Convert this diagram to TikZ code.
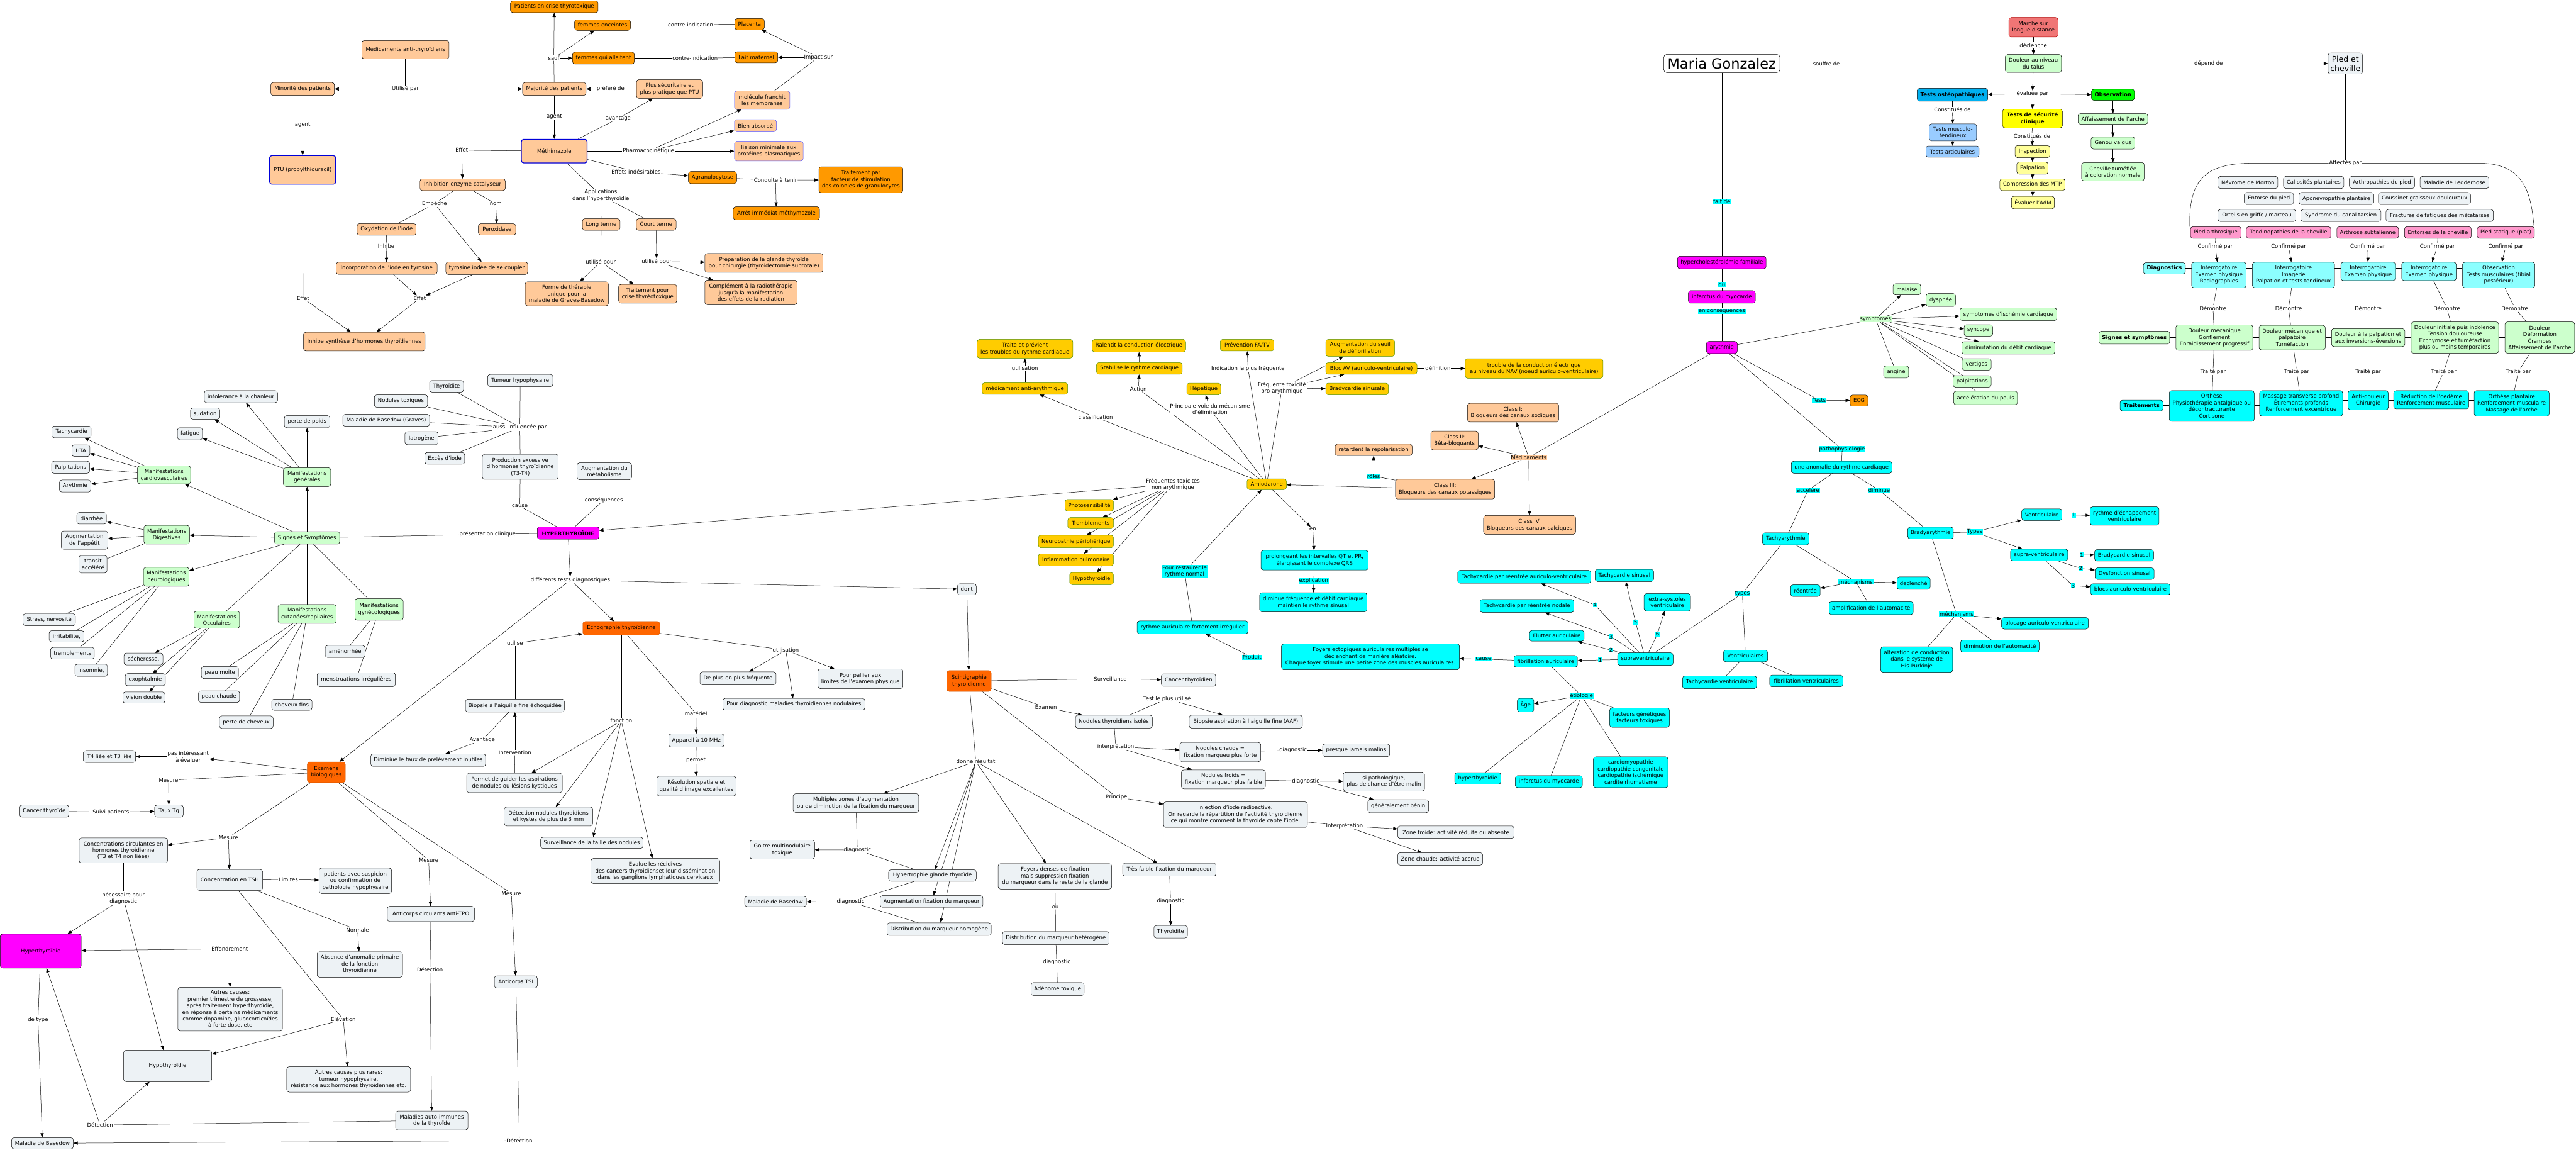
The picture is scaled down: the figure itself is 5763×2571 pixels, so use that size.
\documentclass[tikz,border=0pt]{standalone}
\usepackage{fontspec}
\setmainfont{DejaVu Sans}
\usetikzlibrary{arrows.meta}
\pgfdeclarelayer{bg}
\pgfsetlayers{bg,main}
\definecolor{peach}{HTML}{FFC999}
\definecolor{orng}{HTML}{FF9900}
\definecolor{ored}{HTML}{FF6600}
\definecolor{mag}{HTML}{FF00FF}
\definecolor{yelb}{HTML}{FFCC00}
\definecolor{yelbd}{HTML}{4D8C00}
\definecolor{cyn}{HTML}{00FFFF}
\definecolor{lcyn}{HTML}{8CFFFF}
\definecolor{lgr}{HTML}{CCFFCC}
\definecolor{gry}{HTML}{EDF2F5}
\definecolor{pnk}{HTML}{FF99CC}
\definecolor{coral}{HTML}{F07575}
\definecolor{dsky}{HTML}{00B0F0}
\definecolor{lblu}{HTML}{99CCFF}
\definecolor{grn}{HTML}{00FF00}
\definecolor{yy}{HTML}{FFFF00}
\definecolor{lyel}{HTML}{FFFF99}
\newcommand\fs{\fontsize{6.8}{8.4}\selectfont}
\newcommand\Bx[6]{\node[#1,wd=#4,ht=#5] (#2) at (#3) {#6};}
\newcommand\Lb[3]{\node[lab] (#1) at (#2) {#3};}
\newcommand\Lc[3]{\node[clab] (#1) at (#2) {#3};}
\newcommand\Ar[2]{\draw[ar] (#1) -- (#2);}
\newcommand\Ln[2]{\draw (#1) -- (#2);}
\tikzset{
 bx/.style={draw, rounded corners=3pt, inner sep=1pt, align=center, font=\fs, line width=0.4pt},
 wd/.style={minimum width=#1*0.02cm},
 ht/.style={minimum height=#1*0.02cm},
 pe/.style={bx, fill=peach},
 peb/.style={bx, fill=peach, draw=blue!85!black, line width=1pt},
 pel/.style={bx, fill=peach, draw=blue!70},
 orb/.style={bx, fill=orng},
 orr/.style={bx, fill=ored, draw=ored!80!black},
 mg/.style={bx, fill=mag},
 mgb/.style={bx, fill=mag, font=\fs\bfseries},
 yb/.style={bx, fill=yelb, draw=yelbd},
 cy/.style={bx, fill=cyn},
 lcy/.style={bx, fill=lcyn},
 lcyb/.style={bx, fill=lcyn, font=\fs\bfseries},
 cyb/.style={bx, fill=cyn, font=\fs\bfseries},
 lg/.style={bx, fill=lgr},
 lgb/.style={bx, fill=lgr, font=\fs\bfseries},
 gy/.style={bx, fill=gry},
 pk/.style={bx, fill=pnk},
 crl/.style={bx, fill=coral, draw=red!70!black},
 dsk/.style={bx, fill=dsky, font=\fs\bfseries},
 lbl/.style={bx, fill=lblu},
 grb/.style={bx, fill=grn, font=\fs\bfseries},
 yyb/.style={bx, fill=yy, font=\fs\bfseries},
 lye/.style={bx, fill=lyel},
 mariast/.style={bx, fill=white, font=\fontsize{18}{20}\selectfont, rounded corners=4pt},
 piedst/.style={bx, fill=gry, font=\fontsize{10}{12}\selectfont},
 lab/.style={fill=white, inner sep=0.6pt, align=center, font=\fs},
 clab/.style={lab, fill=cyn},
 plab/.style={lab, fill=peach},
 glab/.style={lab, fill=lgr},
 ar/.style={-{Triangle[length=5.5pt,width=4.2pt]}},
}
\begin{document}
\begin{tikzpicture}[x=0.02cm,y=-0.02cm,line width=0.45pt]
\useasboundingbox (0,0) rectangle (5763,2571);
% ================= top left: anti-thyroid drugs
\Bx{orb}{pcrise}{1240,15}{196}{26}{Patients en crise thyrotoxique}
\Bx{orb}{fenc}{1348,56}{125}{24}{femmes enceintes}
\Bx{orb}{fall}{1350,130}{138}{27}{femmes qui allaitent}
\Lb{lsauf}{1239,130}{sauf}
\Bx{pe}{medat}{907,111}{195}{41}{Médicaments anti-thyroïdiens}
\Lb{lutil}{907,199}{Utilisé par}
\Bx{pe}{minor}{677,199}{142}{29}{Minorité des patients}
\Bx{pe}{major}{1240,199}{142}{29}{Majorité des patients}
\Lb{lpref}{1366,199}{préféré de}
\Bx{pe}{plussec}{1498,199}{148}{42}{Plus sécuritaire et\\plus pratique que PTU}
\Lb{lag1}{677,279}{agent}
\Bx{peb}{ptu}{677,380}{148}{64}{PTU (propylthiouracil)}
\Lb{lag2}{1240,261}{agent}
\Bx{peb}{meth}{1240,338}{147}{53}{Méthimazole}
\Lb{lavant}{1383,265}{avantage}
\Lb{leffa}{1033,336}{Effet}
\Bx{pe}{inhenz}{1035,413}{191}{26}{Inhibition enzyme catalyseur}
\Lb{lemp}{972,456}{Empêche}
\Lb{lnom}{1109,456}{nom}
\Bx{pe}{perox}{1112,513}{84}{25}{Peroxidase}
\Bx{pe}{oxy}{865,513}{132}{26}{Oxydation de l'iode}
\Lb{linh}{864,550}{Inhibe}
\Bx{pe}{incorp}{865,600}{226}{27}{Incorporation de l'iode en tyrosine}
\Bx{pe}{tyrc}{1089,600}{183}{28}{tyrosine iodée de se coupler}
\Lb{leffb}{678,667}{Effet}
\Lb{leffc}{939,667}{Effet}
\Bx{pe}{inhsyn}{815,764}{272}{42}{Inhibe synthèse d'hormones thyroïdiennes}
\Lb{lappl}{1344,437}{Applications\\dans l'hyperthyroïdie}
\Bx{pe}{longt}{1345,502}{84}{26}{Long terme}
\Bx{pe}{court}{1468,502}{89}{26}{Court terme}
\Lb{lupa}{1344,586}{utilisé pour}
\Lb{lupb}{1469,585}{utilisé pour}
\Bx{pe}{forme}{1268,657}{186}{54}{Forme de thérapie\\unique pour la\\maladie de Graves-Basedow}
\Bx{pe}{traitcr}{1449,657}{130}{42}{Traitement pour\\crise thyréotoxique}
\Bx{pe}{prep}{1709,588}{264}{42}{Préparation de la glande thyroïde\\pour chirurgie (thyroidectomie subtotale)}
\Bx{pe}{compl}{1680,654}{206}{55}{Complément à la radiothérapie\\jusqu'à la manifestation\\des effets de la radiation}
\Lb{lpharm}{1451,338}{Pharmacocinétique}
\Bx{pel}{molec}{1705,224}{124}{41}{molécule franchit\\les membranes}
\Bx{pel}{bienab}{1690,281}{94}{27}{Bien absorbé}
\Bx{pel}{liais}{1720,338}{154}{44}{liaison minimale aux\\protéines plasmatiques}
\Lb{leffi}{1423,384}{Effets indésirables}
\Bx{orb}{agran}{1594,397}{108}{27}{Agranulocytose}
\Lb{lcond}{1735,403}{Conduite à tenir}
\Bx{orb}{traitp}{1926,402}{188}{58}{Traitement par\\facteur de stimulation\\des colonies de granulocytes}
\Bx{orb}{arret}{1737,477}{193}{29}{Arrêt immédiat méthymazole}
\Bx{orb}{placenta}{1677,54}{66}{25}{Placenta}
\Bx{orb}{lait}{1692,128}{96}{25}{Lait maternel}
\Lb{lcia}{1545,55}{contre-indication}
\Lb{lcib}{1555,130}{contre-indication}
\Lb{limp}{1831,128}{Impact sur}
% ================= hyperthyroidism
\Bx{gy}{thya}{999,864}{76}{26}{Thyroïdite}
\Bx{gy}{tumeur}{1164,851}{146}{27}{Tumeur hypophysaire}
\Bx{gy}{nodtox}{897,897}{119}{28}{Nodules toxiques}
\Bx{gy}{basg}{864,940}{194}{27}{Maladie de Basedow (Graves)}
\Bx{gy}{iatro}{943,980}{74}{29}{Iatrogène}
\Bx{gy}{exces}{995,1025}{89}{26}{Excès d'iode}
\Lb{laussi}{1163,956}{aussi influencée par}
\Bx{gy}{prodexc}{1164,1044}{170}{56}{Production excessive\\d'hormones thyroïdienne\\(T3-T4)}
\Bx{gy}{augmet}{1352,1054}{122}{38}{Augmentation du\\métabolisme}
\Lb{lcause}{1163,1132}{cause}
\Lb{lconseq}{1351,1118}{conséquences}
\Bx{mgb}{hyper}{1271,1192}{138}{28}{HYPERTHYROÏDIE}
\Lb{lpres}{1091,1195}{présentation clinique}
\Bx{lg}{sigs}{687,1203}{146}{28}{Signes et Symptômes}
\Bx{lg}{mcard}{367,1062}{119}{40}{Manifestations\\cardiovasculaires}
\Bx{gy}{tachyc}{160,966}{88}{26}{Tachycardie}
\Bx{gy}{hta}{181,1008}{40}{26}{HTA}
\Bx{gy}{palpi}{158,1045}{85}{27}{Palpitations}
\Bx{gy}{arythm}{168,1087}{70}{27}{Arythmie}
\Bx{lg}{mgen}{687,1067}{106}{42}{Manifestations\\générales}
\Bx{gy}{intol}{539,887}{164}{27}{intolérance à la chanleur}
\Bx{gy}{sudat}{459,925}{66}{25}{sudation}
\Bx{gy}{pertep}{687,943}{102}{27}{perte de poids}
\Bx{gy}{fatig}{425,970}{56}{27}{fatigue}
\Bx{lg}{mdig}{373,1196}{102}{42}{Manifestations\\Digestives}
\Bx{gy}{diarr}{205,1159}{66}{26}{diarrhée}
\Bx{gy}{appet}{189,1208}{104}{41}{Augmentation\\de l'appétit}
\Bx{gy}{transit}{208,1262}{63}{39}{transit\\accéléré}
\Bx{lg}{mneur}{372,1290}{102}{42}{Manifestations\\neurologiques}
\Bx{gy}{stress}{110,1386}{117}{27}{Stress, nervosité}
\Bx{gy}{irrit}{149,1423}{78}{25}{irritabilité,}
\Bx{gy}{tremb}{162,1461}{98}{26}{tremblements}
\Bx{gy}{insom}{204,1499}{73}{27}{insomnie,}
\Bx{lg}{mocc}{485,1386}{102}{38}{Manifestations\\Occulaires}
\Bx{gy}{sech}{321,1474}{87}{27}{sécheresse,}
\Bx{gy}{exoph}{325,1520}{90}{27}{exophtalmie}
\Bx{gy}{vision}{322,1560}{94}{25}{vision double}
\Bx{lg}{mcut}{687,1373}{130}{42}{Manifestations\\cutanées/capilaires}
\Bx{gy}{moite}{492,1504}{83}{27}{peau moite}
\Bx{gy}{chaude}{490,1558}{92}{26}{peau chaude}
\Bx{gy}{chevf}{653,1576}{90}{25}{cheveux fins}
\Bx{gy}{pertec}{551,1615}{120}{28}{perte de cheveux}
\Bx{lg}{mgyn}{848,1363}{108}{48}{Manifestations\\gynécologiques}
\Bx{gy}{amen}{772,1457}{89}{27}{aménorrhée}
\Bx{gy}{menst}{797,1520}{175}{31}{menstruations irrégulières}
\Lb{ldiff}{1276,1297}{différents tests diagnostiques}
% ================= echographie
\Bx{orr}{echo}{1390,1405}{172}{30}{Echographie thyroïdienne}
\Lb{lutilise}{1152,1439}{utilise}
\Bx{gy}{biop}{1152,1578}{221}{29}{Biopsie à l'aiguille fine échoguidée}
\Lb{lavtg}{1079,1655}{Avantage}
\Bx{gy}{dimin}{958,1700}{257}{28}{Diminiue le taux de prélèvement inutiles}
\Lb{linterv}{1152,1683}{Intervention}
\Lb{lfonct}{1390,1612}{fonction}
\Bx{gy}{permg}{1151,1751}{214}{43}{Permet de guider les aspirations\\de nodules ou lésions kystiques}
\Bx{gy}{detn}{1227,1826}{198}{42}{Détection nodules thyroidiens\\et kystes de plus de 3 mm}
\Bx{gy}{survt}{1324,1885}{229}{25}{Surveillance de la taille des nodules}
\Bx{gy}{evalr}{1466,1948}{288}{56}{Evalue les récidives\\des cancers thyroidienset leur dissémination\\dans les ganglions lymphatiques cervicaux}
\Lb{lutilb}{1758,1454}{utilisation}
\Bx{gy}{plusfreq}{1651,1517}{170}{29}{De plus en plus fréquente}
\Bx{gy}{pallier}{1925,1518}{190}{44}{Pour pallier aux\\limites de l'examen physique}
\Bx{gy}{pdiag}{1776,1575}{318}{26}{Pour diagnostic maladies thyroidiennes nodulaires}
\Lb{lmat}{1557,1596}{matériel}
\Bx{gy}{app10}{1558,1656}{124}{29}{Appareil à 10 MHz}
\Lb{lpermet}{1557,1700}{permet}
\Bx{gy}{resol}{1558,1758}{177}{44}{Résolution spatiale et\\qualité d'image excellentes}
% ================= scintigraphie
\Bx{gy}{dont}{2163,1318}{42}{25}{dont}
\Bx{orr}{scint}{2168,1523}{99}{47}{Scintigraphie\\thyroidienne}
\Lb{lsurv}{2484,1518}{Surveillance}
\Bx{gy}{cancth}{2659,1521}{122}{28}{Cancer thyroïdien}
\Lb{lexam}{2340,1582}{Examen}
\Bx{gy}{nodiso}{2492,1614}{172}{29}{Nodules thyroidiens isolés}
\Lb{ltest}{2611,1563}{Test le plus utilisé}
\Bx{gy}{baaf}{2787,1614}{253}{29}{Biopsie aspiration à l'aiguille fine (AAF)}
\Lb{linterp}{2496,1670}{interprétation}
\Bx{gy}{nchaud}{2730,1682}{181}{43}{Nodules chauds =\\fixation marqueu plus forte}
\Lb{ldiagc}{2893,1678}{diagnostic}
\Bx{gy}{pjm}{3034,1678}{150}{28}{presque jamais malins}
\Bx{gy}{nfroid}{2737,1743}{188}{42}{Nodules froids =\\fixation marqueur plus faible}
\Lb{ldiagf}{2921,1747}{diagnostic}
\Bx{gy}{sipath}{3096,1748}{182}{42}{si pathologique,\\plus de chance d'être malin}
\Bx{gy}{genben}{3128,1803}{136}{29}{généralement bénin}
\Lb{lprinc}{2498,1783}{Principe}
\Bx{gy}{inject}{2764,1822}{322}{57}{Injection d'iode radioactive.\\On regarde la répartition de l'activité thyroidienne\\ce qui montre comment la thyroide capte l'iode.}
\Lb{linterpb}{3008,1847}{Interprétation}
\Bx{gy}{zfroid}{3257,1861}{260}{28}{Zone froide: activité réduite ou absente}
\Bx{gy}{zchaud}{3222,1921}{190}{28}{Zone chaude: activité accrue}
\Lb{ldonne}{2183,1703}{donne résultat}
\Bx{gy}{multz}{1915,1796}{281}{42}{Multiples zones d'augmentation\\ou de diminution de la fixation du marqueur}
\Lb{ldga}{1918,1901}{diagnostic}
\Bx{gy}{goitre}{1750,1900}{145}{42}{Goitre multinodulaire\\toxique}
\Bx{gy}{hypert}{2086,1958}{196}{26}{Hypertrophie glande thyroïde}
\Lb{ldgb}{1903,2017}{diagnostic}
\Bx{gy}{basdb}{1735,2016}{138}{23}{Maladie de Basedow}
\Bx{gy}{augfix}{2084,2016}{230}{26}{Augmentation fixation du marqueur}
\Bx{gy}{disthom}{2101,2078}{233}{28}{Distribution du marqueur homogène}
\Bx{gy}{foyd}{2360,1960}{254}{57}{Foyers denses de fixation\\mais suppression fixation\\du marqueur dans le reste de la glande}
\Lb{lou}{2361,2029}{ou}
\Bx{gy}{disthet}{2362,2098}{239}{29}{Distribution du marqueur hétérogène}
\Lb{ldgc}{2364,2152}{diagnostic}
\Bx{gy}{adeno}{2366,2212}{119}{29}{Adénome toxique}
\Bx{gy}{tfaib}{2616,1945}{209}{29}{Très faible fixation du marqueur}
\Lb{ldgd}{2619,2015}{diagnostic}
\Bx{gy}{thyb}{2619,2084}{75}{28}{Thyroïdite}
% ================= examens biologiques
\Bx{orr}{examb}{730,1727}{85}{46}{Examens\\biologiques}
\Lb{lmesa}{377,1745}{Mesure}
\Bx{gy}{tauxtg}{378,1814}{64}{27}{Taux Tg}
\Bx{gy}{canc}{99,1814}{110}{27}{Cancer thyroïde}
\Lb{lsuivi}{248,1816}{Suivi patients}
\Lb{lmesb}{511,1873}{Mesure}
\Bx{gy}{concirc}{276,1902}{198}{56}{Concentrations circulantes en\\hormones thyroïdienne\\(T3 et T4 non liées)}
\Bx{gy}{tsh}{514,1968}{147}{47}{Concentration en TSH}
\Lb{llim}{645,1967}{Limites}
\Bx{gy}{pats}{795,1970}{162}{57}{patients avec suspicion\\ou confirmation de\\pathologie hypophysaire}
\Lb{lnec}{276,2009}{nécessaire pour\\diagnostic}
\Bx{mg}{hyperb}{91,2127}{181}{76}{Hyperthyroïdie}
\Lb{lefo}{514,2122}{Effondrement}
\Lb{lnorm}{800,2080}{Normale}
\Bx{gy}{absence}{805,2157}{191}{57}{Absence d'anomalie primaire\\de la fonction\\thyroïdienne}
\Bx{gy}{autres}{515,2257}{234}{98}{Autres causes:\\premier trimestre de grossesse,\\après traitement hyperthyroïdie,\\en réponse à certains médicaments\\comme dopamine, glucocorticoïdes\\à forte dose, etc}
\Lb{lmesc}{959,1924}{Mesure}
\Lb{lmesd}{1144,1998}{Mesure}
\Bx{gy}{tpo}{964,2044}{195}{34}{Anticorps circulants anti-TPO}
\Bx{gy}{tsi}{1154,2196}{96}{27}{Anticorps TSI}
\Lb{ltype}{85,2281}{de type}
\Lb{lelev}{768,2280}{Elévation}
\Bx{gy}{hypob}{375,2384}{197}{70}{Hypothyroïdie}
\Bx{gy}{rares}{780,2414}{277}{57}{Autres causes plus rares:\\tumeur hypophysaire,\\résistance aux hormones thyroïdennes etc.}
\Lb{ldeta}{962,2169}{Détection}
\Bx{gy}{mai}{966,2506}{162}{42}{Maladies auto-immunes\\de la thyroïde}
\Lb{ldetb}{224,2516}{Détection}
\Bx{gy}{basdc}{95,2557}{138}{25}{Maladie de Basedow}
\Lb{ldetc}{1162,2551}{Détection}
\Lb{lpas}{421,1692}{pas intéressant\\à évaluer}
\Bx{gy}{tliee}{245,1692}{117}{27}{T4 liée et T3 liée}
% ================= amiodarone
\Bx{yb}{medaa}{2293,869}{191}{26}{médicament anti-arythmique}
\Lb{lutilz}{2293,824}{utilisation}
\Bx{yb}{traite}{2293,780}{214}{42}{Traite et prévient\\les troubles du rythme cardiaque}
\Bx{yb}{ralent}{2548,773}{209}{28}{Ralentit la conduction électrique}
\Bx{yb}{stab}{2549,824}{192}{26}{Stabilise le rythme cardiaque}
\Bx{yb}{prevfa}{2790,772}{120}{26}{Prévention FA/TV}
\Lb{laction}{2547,870}{Action}
\Bx{yb}{hepat}{2693,870}{76}{26}{Hépatique}
\Lb{lprincb}{2707,915}{Principale voie du mécanisme\\d'élimination}
\Lb{lindic}{2792,824}{Indication la plus fréquente}
\Lb{lclass}{2451,933}{classification}
\Lb{lfreqp}{2868,868}{Fréquente toxicité\\pro-arythmique}
\Bx{yb}{augseuil}{3043,778}{154}{38}{Augmentation du seuil\\de défibrillation}
\Bx{yb}{blocav}{3068,824}{204}{26}{Bloc AV (auriculo-ventriculaire)}
\Lb{ldef}{3217,824}{définition}
\Bx{yb}{troub}{3432,824}{308}{44}{trouble de la conduction électrique\\au niveau du NAV (noeud auriculo-ventriculaire)}
\Bx{yb}{bradys}{3036,870}{140}{26}{Bradycardie sinusale}
\Bx{yb}{amio}{2834,1083}{88}{24}{Amiodarone}
\Lb{lfreqn}{2624,1083}{Fréquentes toxicités\\non arythmique}
\Bx{yb}{photo}{2437,1130}{108}{26}{Photosensibilité}
\Bx{yb}{trem}{2440,1170}{102}{25}{Tremblements}
\Bx{yb}{neuro}{2407,1211}{168}{28}{Neuropathie périphérique}
\Bx{yb}{inflam}{2407,1252}{168}{27}{Inflammation pulmonaire}
\Bx{yb}{hypoth}{2442,1294}{98}{27}{Hypothyroïdie}
\Lc{lrest}{2650,1278}{Pour restaurer le\\rythme normal}
\Bx{cy}{rythaur}{2668,1403}{248}{29}{rythme auriculaire fortement irrégulier}
\Lc{lprod}{2801,1470}{Produit}
\Lb{len}{2937,1183}{en}
\Bx{cy}{prolong}{2941,1253}{240}{44}{prolongeant les intervalles QT et PR,\\élargissant le complexe QRS}
\Lc{lexpl}{2939,1299}{explication}
\Bx{cy}{dimfreq}{2938,1347}{240}{43}{diminue fréquence et débit cardiaque\\maintien le rythme sinusal}
\Bx{cy}{foyers}{3066,1469}{398}{58}{Foyers ectopiques auriculaires multiples se\\déclenchant de manière aléatoire.\\Chaque foyer stimule une petite zone des muscles auriculaires.}
\Lc{lcauseb}{3319,1474}{cause}
\Bx{cy}{fibaur}{3458,1479}{142}{26}{fibrillation auriculaire}
\Lc{lna}{3580,1476}{1}
\Bx{cy}{supra}{3681,1474}{124}{28}{supraventriculaire}
\Bx{cy}{flutter}{3483,1422}{122}{24}{Flutter auriculaire}
\Lc{lnb}{3604,1454}{2}
\Bx{cy}{tnod}{3416,1355}{210}{29}{Tachycardie par réentrée nodale}
\Lc{lnc}{3604,1424}{3}
\Bx{cy}{tav}{3410,1290}{298}{29}{Tachycardie par réentrée auriculo-ventriculaire}
\Lc{lnd}{3568,1353}{4}
\Bx{cy}{tsin}{3634,1287}{131}{27}{Tachycardie sinusal}
\Lc{lne}{3659,1391}{5}
\Bx{cy}{extra}{3730,1347}{104}{39}{extra-systoles\\ventriculaire}
\Lc{lnf}{3708,1418}{6}
\Lc{ltypes}{3898,1327}{types}
\Bx{cy}{tachy}{3995,1205}{104}{27}{Tachyarythmie}
\Bx{cy}{ventrs}{3905,1467}{99}{26}{Ventriculaires}
\Bx{cy}{tv}{3847,1526}{166}{28}{Tachycardie ventriculaire}
\Bx{cy}{fv}{4041,1523}{164}{26}{fibrillation ventriculaires}
\Lc{lmecha}{4152,1301}{méchanisms}
\Bx{cy}{reent}{4039,1321}{66}{26}{réentrée}
\Bx{cy}{declen}{4281,1304}{74}{28}{declenché}
\Bx{cy}{ampl}{4186,1360}{188}{29}{amplification de l'automacité}
\Lc{lpatho}{4121,1005}{pathophysiologie}
\Bx{cy}{anom}{4120,1045}{225}{27}{une anomalie du rythme cardiaque}
\Lc{lacc}{4045,1096}{accelere}
\Lc{ldim}{4204,1096}{diminue}
\Bx{cy}{brady}{4319,1192}{102}{26}{Bradyarythmie}
\Lc{ltests}{4070,895}{Tests}
\Bx{orb}{ecg}{4159,896}{40}{25}{ECG}
\Bx{cy}{alter}{4288,1475}{161}{57}{alteration de conduction\\dans le systeme de\\His-Purkinje}
\Lc{letio}{3538,1556}{étiologie}
\Bx{cy}{age}{3413,1577}{37}{30}{Âge}
\Bx{cy}{fgen}{3668,1605}{134}{43}{facteurs génétiques\\facteurs toxiques}
\Bx{cy}{cardio}{3648,1727}{167}{69}{cardiomyopathie\\cardiopathie congenitale\\cardiopathie ischémique\\cardite rhumatisme}
\Bx{cy}{hyperc}{3306,1741}{103}{26}{hyperthyroidie}
\Bx{cy}{infc}{3465,1748}{150}{27}{infarctus du myocarde}
\Lc{ltypesb}{4418,1190}{Types}
\Bx{cy}{ventb}{4568,1151}{90}{26}{Ventriculaire}
\Lc{lba}{4639,1152}{1}
\Bx{cy}{rythe}{4753,1154}{154}{41}{rythme d'échappement\\ventriculaire}
\Bx{cy}{suprab}{4562,1241}{128}{26}{supra-ventriculaire}
\Lc{lsa}{4657,1241}{1}
\Lc{lsb}{4655,1271}{2}
\Lc{lsc}{4638,1310}{3}
\Bx{cy}{bsin}{4752,1242}{132}{26}{Bradycardie sinusal}
\Bx{cy}{dysf}{4753,1283}{132}{26}{Dysfonction sinusal}
\Bx{cy}{blocs}{4766,1318}{178}{25}{blocs auriculo-ventriculaire}
\Lc{lmechb}{4377,1374}{méchanisms}
\Bx{cy}{blocage}{4575,1394}{194}{26}{blocage auriculo-ventriculaire}
\Bx{cy}{dimauto}{4474,1445}{176}{27}{diminution de l'automacité}
\node[plab] (lmedic) at (3420,1023) {Médicaments};
\Bx{pe}{ca}{3385,923}{204}{42}{Class I:\\Bloqueurs des canaux sodiques}
\Bx{pe}{cb}{3254,985}{106}{42}{Class II:\\Bêta-bloquants}
\Bx{pe}{cc}{3233,1094}{222}{44}{Class III:\\Bloqueurs des canaux potassiques}
\Bx{pe}{cd}{3422,1174}{206}{42}{Class IV:\\Bloqueurs des canaux calciques}
\Bx{pe}{retard}{3073,1006}{172}{26}{retardent la repolarisation}
\Lc{lroles}{3073,1065}{rôles}
% ================= Maria
\node[mariast,wd=260,ht=41] (maria) at (3852,142) {Maria Gonzalez};
\Lb{lsouf}{4086,142}{souffre de}
\Lc{lfait}{3852,451}{fait de}
\Bx{mg}{hyperch}{3852,587}{198}{28}{hypercholestérolémie familiale}
\Lc{ldu}{3852,636}{dû}
\Bx{mg}{infm}{3852,664}{150}{28}{infarctus du myocarde}
\Lc{lencons}{3852,696}{en consequences}
\Bx{mg}{aryth}{3852,777}{69}{27}{arythmie}
\node[glab] (lsympt) at (4196,714) {symptomes};
\Bx{lg}{malaise}{4266,647}{62}{25}{malaise}
\Bx{lg}{dysp}{4342,671}{66}{29}{dyspnée}
\Bx{lg}{isch}{4493,703}{217}{28}{symptomes d'ischémie cardiaque}
\Bx{lg}{sync}{4426,739}{64}{26}{syncope}
\Bx{lg}{dimdeb}{4493,778}{208}{28}{diminutation du débit cardiaque}
\Bx{lg}{vert}{4422,815}{65}{26}{vertiges}
\Bx{lg}{palp}{4412,853}{85}{26}{palpitations}
\Bx{lg}{accel}{4442,890}{143}{30}{accélération du pouls}
\Bx{lg}{angine}{4242,832}{56}{27}{angine}
% ================= foot
\Bx{crl}{marche}{4549,61}{110}{44}{Marche sur\\longue distance}
\Lb{ldecl}{4549,101}{déclenche}
\Bx{lg}{douleur}{4549,142}{126}{40}{Douleur au niveau\\du talus}
\Lb{ldep}{4941,142}{dépend de}
\node[piedst,wd=77,ht=47] (pied) at (5247,142) {Pied et\\cheville};
\Lb{leval}{4547,210}{évaluée par}
\Bx{dsk}{testost}{4368,212}{158}{29}{Tests ostéopathiques}
\Lb{lconsta}{4368,245}{Constitués de}
\Bx{lbl}{tmusc}{4369,296}{106}{38}{Tests musculo-\\tendineux}
\Bx{lbl}{tart}{4368,339}{119}{25}{Tests articulaires}
\Bx{yyb}{tsecu}{4547,265}{134}{42}{Tests de sécurité\\clinique}
\Lb{lconstb}{4546,304}{Constitués de}
\Bx{lye}{insp}{4547,339}{78}{27}{Inspection}
\Bx{lye}{palpa}{4547,376}{70}{27}{Palpation}
\Bx{lye}{compr}{4547,413}{146}{26}{Compression des MTP}
\Bx{lye}{evadm}{4548,453}{96}{28}{Évaluer l'AdM}
\Bx{grb}{obs}{4727,212}{96}{25}{Observation}
\Bx{lg}{affais}{4727,266}{156}{24}{Affaissement de l'arche}
\Bx{lg}{genou}{4727,320}{98}{27}{Genou valgus}
\Bx{lg}{chev}{4727,384}{140}{41}{Cheville tuméfiée\\à coloration normale}
\Lb{laff}{5247,365}{Affectés par}
\Bx{gy}{morton}{5029,408}{134}{27}{Névrome de Morton}
\Bx{gy}{callo}{5176,408}{135}{27}{Callosités plantaires}
\Bx{gy}{arthp}{5329,408}{146}{27}{Arthropathies du pied}
\Bx{gy}{ledd}{5491,408}{154}{27}{Maladie de Ledderhose}
\Bx{gy}{entp}{5076,444}{110}{27}{Entorse du pied}
\Bx{gy}{apon}{5227,444}{167}{27}{Aponévropathie plantaire}
\Bx{gy}{couss}{5424,444}{206}{27}{Coussinet graisseux douloureux}
\Bx{gy}{orteil}{5049,482}{174}{27}{Orteils en griffe / marteau}
\Bx{gy}{tarsien}{5237,482}{179}{27}{Syndrome du canal tarsien}
\Bx{gy}{fract}{5458,482}{240}{27}{Fractures de fatigues des métatarses}
\Bx{pk}{pka}{4957,520}{113}{26}{Pied arthrosique}
\Bx{pk}{pkb}{5120,520}{189}{26}{Tendinopathies de la cheville}
\Bx{pk}{pkc}{5297,520}{138}{26}{Arthrose subtalienne}
\Bx{pk}{pkd}{5454,520}{149}{26}{Entorses de la cheville}
\Bx{pk}{pke}{5606,520}{128}{26}{Pied statique (plat)}
\Lb{lca}{4956,551}{Confirmé par}
\Lb{lcb}{5120,551}{Confirmé par}
\Lb{lcc}{5297,551}{Confirmé par}
\Lb{lcd}{5453,551}{Confirmé par}
\Lb{lce}{5606,551}{Confirmé par}
\Bx{lcyb}{diagn}{4842,600}{94}{25}{Diagnostics}
\Bx{lcy}{da}{4964,615}{122}{57}{Interrogatoire\\Examen physique\\Radiographies}
\Bx{lcy}{db}{5131,615}{184}{57}{Interrogatoire\\Imagerie\\Palpation et tests tendineux}
\Bx{lcy}{dc}{5298,607}{122}{41}{Interrogatoire\\Examen physique}
\Bx{lcy}{dd}{5434,607}{122}{41}{Interrogatoire\\Examen physique}
\Bx{lcy}{de}{5590,615}{162}{57}{Observation\\Tests musculaires (tibial\\postérieur)}
\Lb{ldema}{4951,689}{Démontre}
\Lb{ldemb}{5120,689}{Démontre}
\Lb{ldemc}{5298,689}{Démontre}
\Lb{ldemd}{5474,689}{Démontre}
\Lb{ldeme}{5626,689}{Démontre}
\Bx{lgb}{sigst}{4775,755}{158}{29}{Signes et symptômes}
\Bx{lg}{sa}{4954,755}{172}{57}{Douleur mécanique\\Gonflement\\Enraidissement progressif}
\Bx{lg}{sb}{5128,755}{148}{55}{Douleur mécanique et\\palpatoire\\Tuméfaction}
\Bx{lg}{sc}{5298,755}{164}{40}{Douleur à la palpation et\\aux inversions-éversions}
\Bx{lg}{sd}{5492,755}{196}{70}{Douleur initiale puis indolence\\Tension douloureuse\\Ecchymose et tuméfaction\\plus ou moins temporaires}
\Bx{lg}{se}{5682,755}{156}{70}{Douleur\\Déformation\\Crampes\\Affaissement de l'arche}
\Lb{ltra}{4951,831}{Traité par}
\Lb{ltrb}{5138,831}{Traité par}
\Lb{ltrc}{5298,831}{Traité par}
\Lb{ltrd}{5467,831}{Traité par}
\Lb{ltre}{5634,831}{Traité par}
\Bx{cyb}{trt}{4791,907}{96}{24}{Traitements}
\Bx{cy}{ta}{4948,908}{190}{69}{Orthèse\\Physiothérapie antalgique ou\\décontracturante\\Cortisone}
\Bx{cy}{tb}{5148,902}{186}{57}{Massage transverse profond\\Étirements profonds\\Renforcement excentrique}
\Bx{cy}{tc}{5298,895}{90}{43}{Anti-douleur\\Chirurgie}
\Bx{cy}{td}{5439,894}{168}{41}{Réduction de l'oedème\\Renforcement musculaire}
\Bx{cy}{te}{5619,902}{168}{57}{Orthèse plantaire\\Renforcement musculaire\\Massage de l'arche}
% ================= connectors
\begin{pgfonlayer}{bg}
\fill[white] (0,0) rectangle (5763,2571);
\Ln{medat}{lutil} \Ar{lutil}{minor} \Ar{lutil}{major}
\Ln{minor}{lag1} \Ar{lag1}{ptu}
\Ln{ptu}{leffb} \Ar{leffb}{inhsyn}
\Ln{major}{lag2} \Ar{lag2}{meth}
\Ln{major}{lsauf} \Ar{lsauf}{pcrise} \Ar{lsauf}{fenc} \Ar{lsauf}{fall}
\Ln{fenc}{lcia} \Ln{lcia}{placenta}
\Ln{fall}{lcib} \Ln{lcib}{lait}
\Ln{plussec}{lpref} \Ar{lpref}{major}
\Ln{meth}{lavant} \Ar{lavant}{plussec}
\Ln{meth}{leffa} \Ar{leffa}{inhenz}
\Ln{inhenz}{lemp} \Ln{lemp}{oxy} \Ar{lemp}{tyrc}
\Ln{inhenz}{lnom} \Ar{lnom}{perox}
\Ln{oxy}{linh} \Ar{linh}{incorp}
\Ar{incorp}{leffc} \Ar{tyrc}{leffc} \Ar{leffc}{inhsyn}
\Ln{meth}{lpharm} \Ar{lpharm}{molec} \Ar{lpharm}{bienab} \Ar{lpharm}{liais}
\Ln{molec}{limp} \Ar{limp}{placenta} \Ar{limp}{lait}
\Ln{meth}{leffi} \Ar{leffi}{agran}
\Ln{agran}{lcond} \Ar{lcond}{traitp} \Ar{lcond}{arret}
\Ln{meth}{lappl} \Ln{lappl}{longt} \Ln{lappl}{court}
\Ln{longt}{lupa} \Ar{lupa}{forme} \Ar{lupa}{traitcr}
\Ar{court}{lupb} \Ar{lupb}{prep} \Ar{lupb}{compl}
% hyper
\Ln{prodexc}{laussi} \Ln{laussi}{thya} \Ln{laussi}{nodtox} \Ln{laussi}{basg}
\Ln{laussi}{iatro} \Ln{laussi}{exces} \Ln{laussi}{tumeur}
\Ln{hyper}{lcause} \Ln{lcause}{prodexc} \Ln{hyper}{lconseq} \Ln{lconseq}{augmet}
\Ln{hyper}{lpres} \Ln{lpres}{sigs}
\Ar{sigs}{mcard} \Ar{sigs}{mgen} \Ar{sigs}{mdig} \Ar{sigs}{mneur}
\Ln{sigs}{mocc} \Ln{sigs}{mcut} \Ln{sigs}{mgyn}
\Ar{mcard}{tachyc} \Ar{mcard}{hta} \Ar{mcard}{palpi} \Ar{mcard}{arythm}
\Ar{mgen}{pertep} \Ar{mgen}{intol} \Ar{mgen}{sudat} \Ar{mgen}{fatig}
\Ar{mdig}{diarr} \Ar{mdig}{appet} \Ln{mdig}{transit}
\Ln{mneur}{stress} \Ln{mneur}{irrit} \Ln{mneur}{tremb} \Ln{mneur}{insom}
\Ar{mocc}{sech} \Ar{mocc}{exoph} \Ar{mocc}{vision}
\Ln{mcut}{moite} \Ln{mcut}{chaude} \Ln{mcut}{pertec} \Ln{mcut}{chevf}
\Ln{mgyn}{amen} \Ln{mgyn}{menst}
\Ar{hyper}{ldiff} \Ar{ldiff}{echo} \Ar{ldiff}{examb} \Ar{ldiff}{dont}
% echo
\Ln{biop}{lutilise} \Ar{lutilise}{echo}
\Ln{biop}{lavtg} \Ar{lavtg}{dimin}
\Ln{permg}{linterv} \Ar{linterv}{biop}
\Ln{echo}{lfonct} \Ar{lfonct}{permg} \Ar{lfonct}{detn} \Ar{lfonct}{survt} \Ar{lfonct}{evalr}
\Ln{echo}{lutilb} \Ar{lutilb}{plusfreq} \Ar{lutilb}{pallier} \Ar{lutilb}{pdiag}
\Ln{echo}{lmat} \Ar{lmat}{app10}
\Ln{app10}{lpermet} \Ar{lpermet}{resol}
% scint
\Ar{dont}{scint}
\Ln{scint}{lsurv} \Ar{lsurv}{cancth}
\Ln{scint}{lexam} \Ar{lexam}{nodiso}
\Ln{nodiso}{ltest} \Ar{ltest}{baaf}
\Ln{nodiso}{linterp} \Ar{linterp}{nchaud} \Ar{linterp}{nfroid}
\Ln{nchaud}{ldiagc} \Ar{ldiagc}{pjm}
\Ln{nfroid}{ldiagf} \Ar{ldiagf}{sipath} \Ar{ldiagf}{genben}
\Ln{scint}{lprinc} \Ar{lprinc}{inject}
\Ln{inject}{linterpb} \Ar{linterpb}{zfroid} \Ar{linterpb}{zchaud}
\Ln{scint}{ldonne}
\Ar{ldonne}{multz} \Ar{ldonne}{hypert} \Ar{ldonne}{augfix} \Ar{ldonne}{disthom}
\Ar{ldonne}{foyd} \Ar{ldonne}{tfaib}
\Ln{multz}{ldga} \Ln{hypert}{ldga} \Ar{ldga}{goitre}
\Ln{hypert}{ldgb} \Ln{augfix}{ldgb} \Ln{disthom}{ldgb} \Ar{ldgb}{basdb}
\Ln{foyd}{lou} \Ln{lou}{disthet}
\Ln{disthet}{ldgc} \Ln{ldgc}{adeno}
\Ln{tfaib}{ldgd} \Ar{ldgd}{thyb}
% examens
\Ln{examb}{lmesa} \Ar{lmesa}{tauxtg}
\Ln{canc}{lsuivi} \Ar{lsuivi}{tauxtg}
\Ln{examb}{lmesb} \Ar{lmesb}{concirc} \Ar{lmesb}{tsh}
\Ln{tsh}{llim} \Ar{llim}{pats}
\Ln{concirc}{lnec} \Ar{lnec}{hyperb} \Ar{lnec}{hypob}
\Ln{tsh}{lefo} \Ar{lefo}{hyperb} \Ar{lefo}{autres}
\Ln{tsh}{lnorm} \Ar{lnorm}{absence}
\Ln{tsh}{lelev} \Ar{lelev}{hypob} \Ar{lelev}{rares}
\Ln{examb}{lmesc} \Ar{lmesc}{tpo}
\Ln{examb}{lmesd} \Ar{lmesd}{tsi}
\Ln{tpo}{ldeta} \Ar{ldeta}{mai}
\Ln{mai}{ldetb} \Ar{ldetb}{hypob} \Ar{ldetb}{hyperb}
\Ln{hyperb}{ltype} \Ar{ltype}{basdc}
\Ln{tsi}{ldetc} \Ar{ldetc}{basdc}
\Ar{examb}{lpas} \Ar{lpas}{tliee}
% amiodarone
\Ln{medaa}{lutilz} \Ar{lutilz}{traite}
\Ln{amio}{laction} \Ar{laction}{stab} \Ar{stab}{ralent}
\Ln{amio}{lprincb} \Ar{lprincb}{hepat}
\Ln{amio}{lindic} \Ar{lindic}{prevfa}
\Ln{amio}{lclass} \Ar{lclass}{medaa}
\Ln{amio}{lfreqp} \Ar{lfreqp}{augseuil} \Ar{lfreqp}{blocav} \Ar{lfreqp}{bradys}
\Ln{blocav}{ldef} \Ar{ldef}{troub}
\Ln{amio}{lfreqn} \Ar{lfreqn}{photo} \Ar{lfreqn}{trem} \Ar{lfreqn}{neuro}
\Ar{lfreqn}{inflam} \Ar{lfreqn}{hypoth} \Ar{lfreqn}{hyper}
\Ln{rythaur}{lrest} \Ar{lrest}{amio}
\Ln{foyers}{lprod} \Ar{lprod}{rythaur}
\Ar{amio}{len} \Ar{len}{prolong}
\Ln{prolong}{lexpl} \Ar{lexpl}{dimfreq}
\Ln{fibaur}{lcauseb} \Ar{lcauseb}{foyers}
\Ln{supra}{lna} \Ar{lna}{fibaur}
\Ln{supra}{lnb} \Ar{lnb}{flutter}
\Ln{supra}{lnc} \Ar{lnc}{tnod}
\Ln{supra}{lnd} \Ar{lnd}{tav}
\Ln{supra}{lne} \Ar{lne}{tsin}
\Ln{supra}{lnf} \Ar{lnf}{extra}
\Ln{tachy}{ltypes} \Ln{ltypes}{supra} \Ln{ltypes}{ventrs}
\Ln{ventrs}{tv} \Ln{ventrs}{fv}
\Ln{tachy}{lmecha} \Ar{lmecha}{reent} \Ar{lmecha}{declen} \Ln{lmecha}{ampl}
\Ln{aryth}{lpatho} \Ln{lpatho}{anom}
\Ln{anom}{lacc} \Ln{lacc}{tachy}
\Ln{anom}{ldim} \Ln{ldim}{brady}
\Ln{aryth}{ltests} \Ar{ltests}{ecg}
\Ln{fibaur}{letio} \Ar{letio}{age} \Ln{letio}{fgen} \Ln{letio}{cardio}
\Ln{letio}{hyperc} \Ln{letio}{infc}
\Ln{brady}{ltypesb} \Ar{ltypesb}{ventb} \Ar{ltypesb}{suprab}
\Ln{ventb}{lba} \Ar{lba}{rythe}
\Ln{suprab}{lsa} \Ar{lsa}{bsin}
\Ln{suprab}{lsb} \Ar{lsb}{dysf}
\Ln{suprab}{lsc} \Ar{lsc}{blocs}
\Ln{brady}{lmechb} \Ar{lmechb}{blocage} \Ln{lmechb}{dimauto} \Ln{lmechb}{alter}
\Ln{aryth}{lmedic} \Ar{lmedic}{ca} \Ar{lmedic}{cb} \Ar{lmedic}{cc} \Ar{lmedic}{cd}
\Ln{cc}{lroles} \Ar{lroles}{retard}
\Ar{cc}{amio}
% maria
\Ln{maria}{lsouf} \Ln{lsouf}{douleur}
\Ln{maria}{lfait} \Ln{lfait}{hyperch}
\Ln{hyperch}{ldu} \Ln{ldu}{infm}
\Ln{infm}{lencons} \Ln{lencons}{aryth}
\Ln{aryth}{lsympt}
\Ar{lsympt}{malaise} \Ar{lsympt}{dysp} \Ar{lsympt}{isch} \Ar{lsympt}{sync} \Ar{lsympt}{dimdeb}
\Ln{lsympt}{vert} \Ln{lsympt}{palp} \Ln{lsympt}{accel} \Ln{lsympt}{angine}
% foot
\Ln{marche}{ldecl} \Ar{ldecl}{douleur}
\Ln{douleur}{ldep} \Ar{ldep}{pied}
\Ar{douleur}{leval} \Ar{leval}{testost} \Ar{leval}{tsecu} \Ar{leval}{obs}
\Ln{testost}{lconsta} \Ar{lconsta}{tmusc} \Ar{tmusc}{tart}
\Ln{tsecu}{lconstb} \Ar{lconstb}{insp} \Ar{insp}{palpa} \Ar{palpa}{compr} \Ar{compr}{evadm}
\Ar{obs}{affais} \Ar{affais}{genou} \Ar{genou}{chev}
\Ln{pied}{laff}
\draw (4899,507) .. controls (4896,400) and (4935,365) .. (5040,365) -- (laff.west);
\draw (laff.east) -- (5545,365) .. controls (5640,365) and (5662,420) .. (5669,507);
\Ln{pka}{lca} \Ar{lca}{da}
\Ln{pkb}{lcb} \Ar{lcb}{db}
\Ln{pkc}{lcc} \Ar{lcc}{dc}
\Ln{pkd}{lcd} \Ar{lcd}{dd}
\Ln{pke}{lce} \Ar{lce}{de}
\Ln{da}{ldema} \Ln{ldema}{sa}
\Ln{db}{ldemb} \Ln{ldemb}{sb}
\Ln{dc}{ldemc} \Ln{ldemc}{sc}
\Ln{dd}{ldemd} \Ln{ldemd}{sd}
\Ln{de}{ldeme} \Ln{ldeme}{se}
\Ln{sa}{ltra} \Ln{ltra}{ta}
\Ln{sb}{ltrb} \Ln{ltrb}{tb}
\Ln{sc}{ltrc} \Ln{ltrc}{tc}
\Ln{sd}{ltrd} \Ln{ltrd}{td}
\Ln{se}{ltre} \Ln{ltre}{te}
\draw (diagn.east) -- (diagn.east -| da.west);
\draw (da.east |- diagn.east) -- (db.west |- diagn.east);
\draw (db.east |- diagn.east) -- (dc.west |- diagn.east);
\draw (dc.east |- diagn.east) -- (dd.west |- diagn.east);
\draw (dd.east |- diagn.east) -- (de.west |- diagn.east);
\draw (sigst.east) -- (sa.west);
\draw (sa.east) -- (sb.west);
\draw (sb.east) -- (sc.west);
\draw (sc.east) -- (sd.west);
\draw (sd.east) -- (se.west);
\draw (trt.east) -- (trt.east -| ta.west);
\draw (ta.east |- trt.east) -- (tb.west |- trt.east);
\draw (tb.east |- tc.east) -- (tc.west);
\draw (tc.east) -- (tc.east -| td.west);
\draw (td.east |- tc.east) -- (te.west |- tc.east);
\end{pgfonlayer}
\end{tikzpicture}
\end{document}
